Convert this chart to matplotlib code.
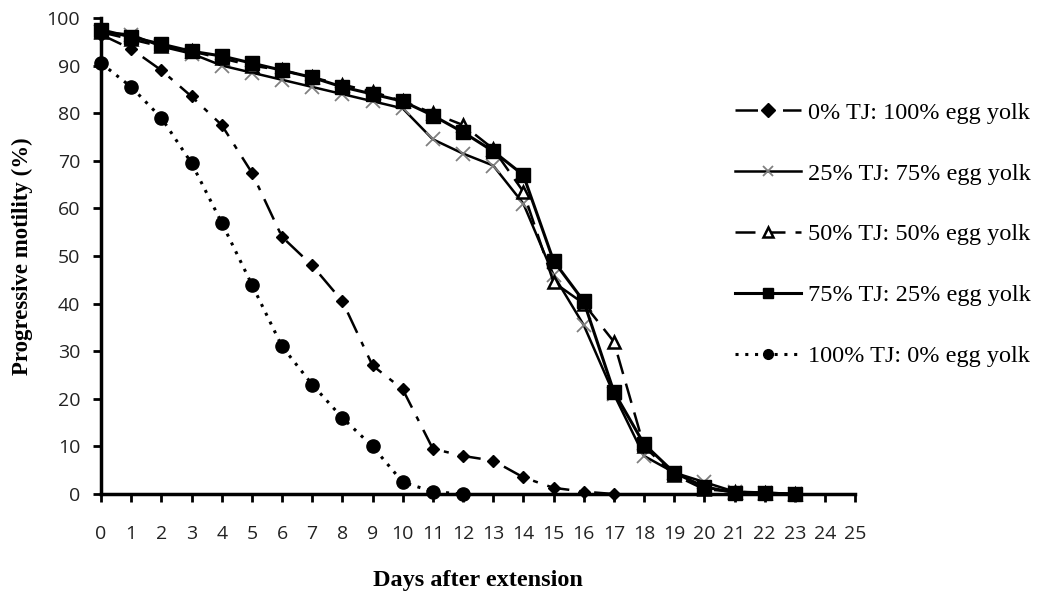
import matplotlib
matplotlib.use('Agg')
import matplotlib.pyplot as plt

# days after extension
days = list(range(26))

# progressive motility (%) per treatment
tj0 = [96.5, 93.5, 89, 83.5, 77.5, 67.5, 54, 48, 40.5, 27, 22, 9.5, 8, 7, 3.5, 1.3, 0.5, 0]
tj25 = [97, 96.5, 94, 92.5, 90, 88.5, 87, 85.5, 84, 82.5, 81, 74.5, 71.5, 69, 61, 46, 35.5, 21, 8, 4.5, 2.5, 0.5, 0.3, 0]
tj50 = [97, 95.5, 94, 93, 91.5, 90, 89, 87.5, 86, 84.5, 82.5, 80, 77.5, 72.5, 63.5, 44.5, 40, 32, 10, 4, 1, 0.5, 0.2, 0]
tj75 = [97.5, 96, 94.5, 93, 92, 90.5, 89, 87.5, 85.5, 84, 82.5, 79.5, 76, 72, 67, 49, 40.5, 21.5, 10.5, 4.5, 1.5, 0.3, 0.2, 0]
tj100 = [90.5, 85.5, 79, 69.5, 57, 44, 31, 23, 16, 10, 2.5, 0.5, 0]

labels = ['0% TJ: 100% egg yolk', '25% TJ: 75% egg yolk', '50% TJ: 50% egg yolk',
          '75% TJ: 25% egg yolk', '100% TJ: 0% egg yolk']

fig = plt.figure(figsize=(10.48, 5.97), dpi=100)
ax = fig.add_axes([0.0964, 0.1725, 0.7196, 0.7975])

# 0% TJ - dash-dot with diamonds
ax.plot(days[:len(tj0)], tj0, color='black', lw=1.8, dashes=(9, 4, 2, 4),
        marker='D', ms=6.5, mfc='black', mec='black', clip_on=False, label=labels[0])
# 25% TJ - solid with grey crosses
ax.plot(days[:len(tj25)], tj25, color='black', lw=1.8, linestyle='-',
        marker='x', ms=10, mew=1.3, mec='#808080', clip_on=False, label=labels[1])
# 50% TJ - dashed with open triangles
ax.plot(days[:len(tj50)], tj50, color='black', lw=1.8, dashes=(8, 4),
        marker='^', ms=9, mfc='white', mec='black', mew=1.8, clip_on=False, label=labels[2])
# 75% TJ - solid with squares
ax.plot(days[:len(tj75)], tj75, color='black', lw=2.2, linestyle='-',
        marker='s', ms=9.5, mfc='black', mec='black', clip_on=False, label=labels[3])
# 100% TJ - dotted with circles
ax.plot(days[:len(tj100)], tj100, color='black', lw=2.2, dashes=(1, 2.2),
        marker='o', ms=9.5, mfc='black', mec='black', clip_on=False, label=labels[4])

ax.set_xlim(0, 25)
ax.set_ylim(0, 100)
ax.set_xticks(days)
ax.set_yticks(range(0, 101, 10))

for s in ['top', 'right']:
    ax.spines[s].set_visible(False)
for s in ['left', 'bottom']:
    ax.spines[s].set_linewidth(2.5)

ax.tick_params(axis='x', direction='out', length=6, width=2, pad=16)
ax.tick_params(axis='y', direction='out', length=6, width=2, pad=9)
for t in ax.get_xticklabels() + ax.get_yticklabels():
    t.set_fontfamily(['Open Sans', 'DejaVu Sans'])
    t.set_fontsize(14)
    t.set_color('#222222')

ax.set_ylabel('Progressive motility (%)', fontfamily='Liberation Serif',
              fontweight='bold', fontsize=16.5, labelpad=10)
ax.set_xlabel('Days after extension', fontfamily='Liberation Serif',
              fontweight='bold', fontsize=17.5, labelpad=20)

leg = fig.legend(loc='upper left', bbox_to_anchor=(0.6924, 0.846), frameon=False,
                 prop={'family': 'Liberation Serif', 'size': 17.5},
                 handlelength=2.7, labelspacing=1.6, handletextpad=0.3,
                 borderaxespad=0)
for h in leg.legend_handles:
    h.set_markersize(7)

plt.savefig('out.png', dpi=100)
